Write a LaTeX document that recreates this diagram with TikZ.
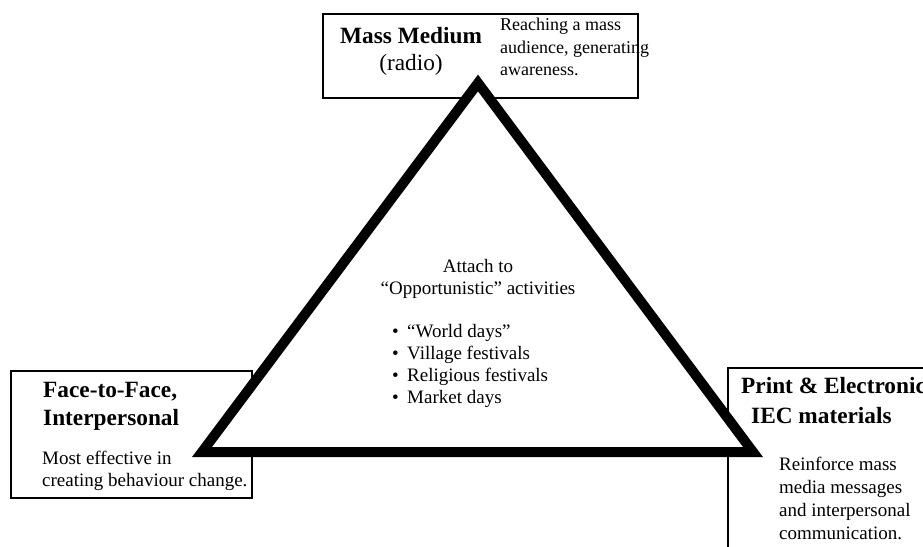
\documentclass[tikz,border=0pt]{standalone}
\usepackage{fontspec}
\setmainfont{Liberation Serif}
\usetikzlibrary{positioning}

\begin{document}
\begin{tikzpicture}[x=1pt, y=-1pt,
    frame/.style={draw, line width=1.5pt, anchor=north west, inner sep=0pt},
    head/.style={anchor=base west, inner sep=0pt, font=\fontsize{23.3}{28}\selectfont\bfseries},
    txt/.style={anchor=base west, inner sep=0pt, font=\fontsize{19}{23}\selectfont},
    small/.style={anchor=base west, inner sep=0pt, font=\fontsize{18}{22}\selectfont},
    mid/.style={anchor=base, inner sep=0pt, font=\fontsize{19}{22}\selectfont}]
    \useasboundingbox (0,0) rectangle (923,546);
    \clip (0,0) rectangle (923,546);

    % boxes
    \node[frame, minimum width=315, minimum height=84] (radio) at (322,13) {};
    \node[frame, minimum width=241, minimum height=127] (face) at (10,370) {};
    \node[frame, minimum width=240, minimum height=200] (print) at (727,367) {};

    % triangle
    \coordinate (apex) at (478,83);
    \coordinate (cornerL) at (202,452);
    \coordinate (cornerR) at (753,452);
    \draw[line width=10pt, fill=white] (cornerL) -- (apex) -- (cornerR) -- cycle;

    % top
    \node[head] (mass) at (340,43) {Mass Medium};
    \node[anchor=base, inner sep=0pt, font=\fontsize{23.3}{28}\selectfont] (kind) at (411,70) {(radio)};
    \node[small] (reach1) at (500,30) {Reaching a mass};
    \node[small] (reach2) at (500,53) {audience, generating};
    \node[small] (reach3) at (500,75) {awareness.};

    % left
    \node[head] (face1) at (43,397) {Face-to-Face,};
    \node[head] (face2) at (43,425) {Interpersonal};
    \node[txt] (most1) at (42,464) {Most effective in};
    \node[txt] (most2) at (42,486) {creating behaviour change.};

    % right
    \node[head] (print1) at (741,393) {Print \& Electronic};
    \node[head] (print2) at (751,423) {IEC materials};
    \node[txt] (rein1) at (779,470) {Reinforce mass};
    \node[txt] (rein2) at (779,493) {media messages};
    \node[txt] (rein3) at (779,516) {and interpersonal};
    \node[txt] (rein4) at (779,539) {communication.};

    % middle
    \node[mid] (attach) at (478,272) {Attach to};
    \node[mid] (oppo) at (478,294) {“Opportunistic” activities};
    \foreach \what [count=\i] in {“World days”, Village festivals, Religious festivals, Market days} {
        \node[txt] (dot\i) at (392,{315+22*\i}) {\textbullet};
        \node[txt] (day\i) at (407,{315+22*\i}) {\what};
    }
\end{tikzpicture}
\end{document}
